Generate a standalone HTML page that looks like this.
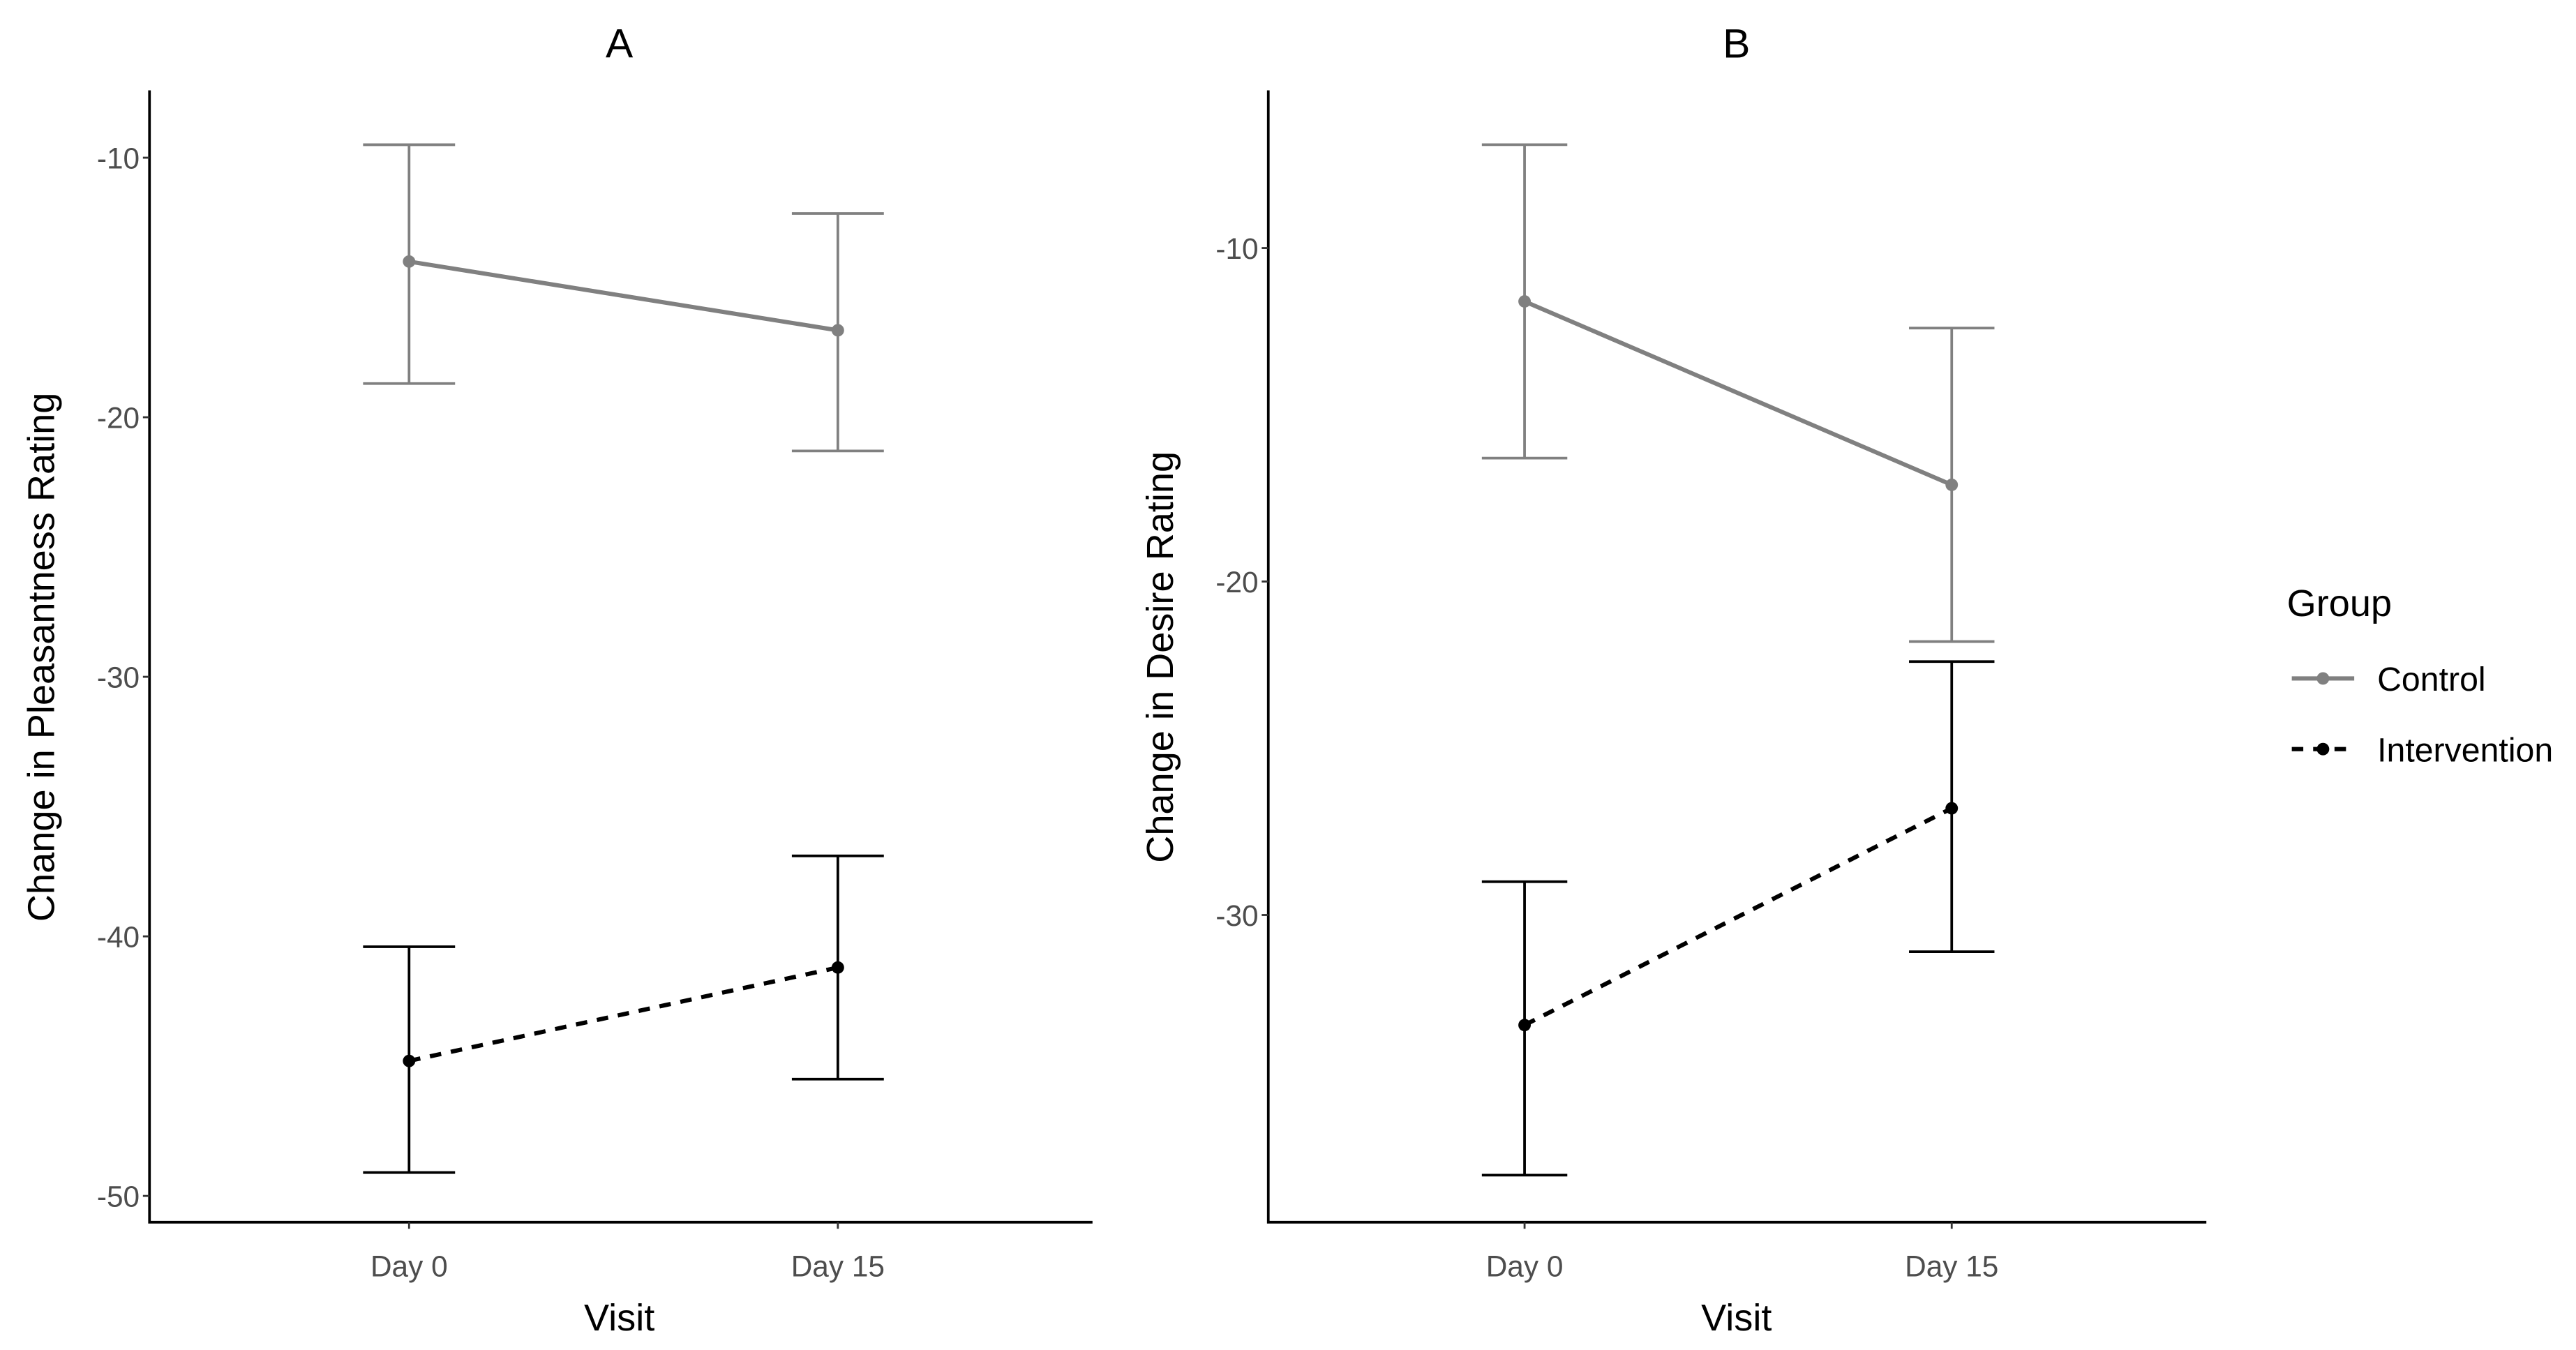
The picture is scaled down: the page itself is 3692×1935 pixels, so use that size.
<!DOCTYPE html>
<html><head><meta charset="utf-8"><style>
html,body{margin:0;padding:0;background:#fff;}
svg{display:block;}
text{font-family:"Liberation Sans",Arial,sans-serif;}
</style></head><body>
<svg id="chart" width="3692" height="1935" viewBox="0 0 1568 821.8" preserveAspectRatio="none" xmlns="http://www.w3.org/2000/svg"></svg>
<script>
const visits = ["Day 0", "Day 15"];
const groups = ["Control", "Intervention"];
const aTicks = [-10, -20, -30, -40, -50];
const bTicks = [-10, -20, -30];
// Panel A: means, lower, upper per group
const aControlMean = [-14.0, -16.65];
const aControlLow = [-18.7, -21.3];
const aControlHigh = [-9.5, -12.15];
const aInterMean = [-44.8, -41.2];
const aInterLow = [-49.1, -45.5];
const aInterHigh = [-40.4, -36.9];
// Panel B
const bControlMean = [-11.6, -17.1];
const bControlLow = [-16.3, -21.8];
const bControlHigh = [-6.9, -12.4];
const bInterMean = [-33.3, -26.8];
const bInterLow = [-37.8, -31.1];
const bInterHigh = [-29.0, -22.4];

const NS = "http://www.w3.org/2000/svg";
const svg = document.getElementById("chart");
function mk(tag, attrs, parent) {
  const e = document.createElementNS(NS, tag);
  for (const k in attrs) e.setAttribute(k, attrs[k]);
  (parent || svg).appendChild(e);
  return e;
}

function panel(cfg) {
  const g = mk("g", {});
  
  
  const y = v => cfg.y0 + (v - cfg.v0) * cfg.k;
  const x = i => cfg.xs[i];
  const ax = mk("path", {d: `M${cfg.left},${cfg.top} V${cfg.bottom} H${cfg.right}`, fill: "none", stroke: "#000", "stroke-width": 1.6}, g);
  
  
  cfg.ticks.forEach(t => {
    mk("line", {x1: cfg.left - 4, x2: cfg.left, y1: y(t), y2: y(t), stroke: "#333", "stroke-width": 1.2}, g);
    const tl = mk("text", {x: cfg.left - 6, y: y(t) + 6.5, "text-anchor": "end", "font-size": 18, fill: "#4d4d4d"}, g);
    tl.textContent = t;
    
    
  });
  visits.forEach((v, i) => {
    mk("line", {x1: x(i), x2: x(i), y1: cfg.bottom, y2: cfg.bottom + 4, stroke: "#333", "stroke-width": 1.2}, g);
    const tl = mk("text", {x: x(i), y: 777, "text-anchor": "middle", "font-size": 18, fill: "#4d4d4d"}, g);
    tl.textContent = v;
    
    
  });
  const ti = mk("text", {x: cfg.titleX, y: 35, "text-anchor": "middle", "font-size": 25, fill: "#000"}, g);
  ti.textContent = cfg.id;
  
  
  const xt = mk("text", {x: cfg.titleX, y: 810, "text-anchor": "middle", "font-size": 23, fill: "#000"}, g);
  xt.textContent = "Visit";
  
  
  const yt = mk("text", {x: 0, y: 0, "text-anchor": "middle", "font-size": 23, fill: "#000", transform: `translate(${cfg.ytX},${cfg.ytY}) rotate(-90)`}, g);
  yt.textContent = cfg.ytitle;
  
  

  cfg.series.forEach(s => {
    s.mean.forEach((m, i) => {
      const eb = mk("path", {d: `M${x(i) - cfg.cap},${y(s.high[i])} H${x(i) + cfg.cap} M${x(i)},${y(s.high[i])} V${y(s.low[i])} M${x(i) - cfg.cap},${y(s.low[i])} H${x(i) + cfg.cap}`, fill: "none", stroke: s.color, "stroke-width": 1.6}, g);
      
      
    });
    const ln = mk("line", {x1: x(0), y1: y(s.mean[0]), x2: x(1), y2: y(s.mean[1]), stroke: s.color, "stroke-width": 2.6, "stroke-dasharray": s.dash || "none"}, g);
    
    
    s.mean.forEach((m, i) => {
      const pt = mk("circle", {cx: x(i), cy: y(m), r: 3.8, fill: s.color}, g);
      
      
    });
  });
}

panel({id: "A", left: 91, right: 665, top: 55, bottom: 744, y0: 96, v0: -10, k: -15.8,
  xs: [249, 510], ticks: aTicks, cap: 28, titleX: 377, ytX: 33, ytY: 400,
  ytitle: "Change in Pleasantness Rating",
  series: [
    {mean: aControlMean, low: aControlLow, high: aControlHigh, color: "#808080"},
    {mean: aInterMean, low: aInterLow, high: aInterHigh, color: "#000", dash: "7,6"}
  ]});
panel({id: "B", left: 772, right: 1343, top: 55, bottom: 744, y0: 151, v0: -10, k: -20.3,
  xs: [928, 1188], ticks: bTicks, cap: 26, titleX: 1057, ytX: 714, ytY: 400,
  ytitle: "Change in Desire Rating",
  series: [
    {mean: bControlMean, low: bControlLow, high: bControlHigh, color: "#808080"},
    {mean: bInterMean, low: bInterLow, high: bInterHigh, color: "#000", dash: "7,6"}
  ]});

const lg = mk("g", {});


const lt = mk("text", {x: 1392, y: 375, "font-size": 23, fill: "#000"}, lg);
lt.textContent = "Group";


const legColors = ["#808080", "#000"];
const legDash = ["none", "7,6"];
groups.forEach((gname, i) => {
  const yy = 413 + i * 43;
  const e = mk("g", {}, lg);
  
  
  mk("line", {x1: 1395, x2: 1433, y1: yy, y2: yy, stroke: legColors[i], "stroke-width": 2.6, "stroke-dasharray": legDash[i]}, e);
  mk("circle", {cx: 1414, cy: yy, r: 3.8, fill: legColors[i]}, e);
  const t = mk("text", {x: 1447, y: yy + 7.5, "font-size": 20.5, fill: "#000"}, e);
  t.textContent = gname;
});
</script>
</body></html>
